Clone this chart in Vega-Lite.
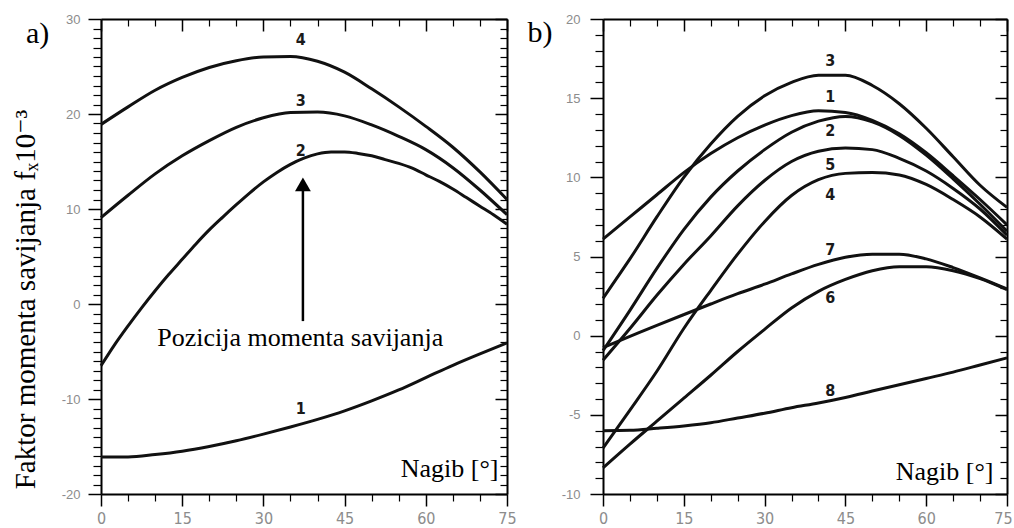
{
  "$schema": "https://vega.github.io/schema/vega-lite/v6.json",
  "background": "white",
  "padding": {"left": 11, "top": 13, "right": 0, "bottom": 0},
  "spacing": 96,
  "bounds": "flush",
  "config": {
    "view": {"stroke": null},
    "axis": {"grid": false, "domainColor": "black", "tickColor": "black", "labelColor": "#8c8c8c", "labelFlush": false, "labelOverlap": false}
  },
  "datasets": {
    "a_curves": [
      {"curve": "1", "x": 0, "y": -16.1}, {"curve": "1", "x": 5, "y": -16.1}, {"curve": "1", "x": 10, "y": -15.85}, {"curve": "1", "x": 15, "y": -15.5},
      {"curve": "1", "x": 20, "y": -15.0}, {"curve": "1", "x": 25, "y": -14.4}, {"curve": "1", "x": 30, "y": -13.7}, {"curve": "1", "x": 35, "y": -12.95},
      {"curve": "1", "x": 40, "y": -12.15}, {"curve": "1", "x": 45, "y": -11.25}, {"curve": "1", "x": 50, "y": -10.2}, {"curve": "1", "x": 55, "y": -9.05},
      {"curve": "1", "x": 60, "y": -7.75}, {"curve": "1", "x": 65, "y": -6.45}, {"curve": "1", "x": 70, "y": -5.25}, {"curve": "1", "x": 75, "y": -4.1},
      {"curve": "2", "x": 0, "y": -6.5}, {"curve": "2", "x": 2.5, "y": -4.3}, {"curve": "2", "x": 5, "y": -2.3}, {"curve": "2", "x": 7.5, "y": -0.4},
      {"curve": "2", "x": 10, "y": 1.4}, {"curve": "2", "x": 12.5, "y": 3.1}, {"curve": "2", "x": 15, "y": 4.7}, {"curve": "2", "x": 17.5, "y": 6.3},
      {"curve": "2", "x": 20, "y": 7.8}, {"curve": "2", "x": 22.5, "y": 9.15}, {"curve": "2", "x": 25, "y": 10.45}, {"curve": "2", "x": 27.5, "y": 11.7},
      {"curve": "2", "x": 30, "y": 12.85}, {"curve": "2", "x": 32.5, "y": 13.85}, {"curve": "2", "x": 35, "y": 14.7}, {"curve": "2", "x": 37.5, "y": 15.35},
      {"curve": "2", "x": 40, "y": 15.8}, {"curve": "2", "x": 42.5, "y": 16.0}, {"curve": "2", "x": 45, "y": 16.0}, {"curve": "2", "x": 47.5, "y": 15.85},
      {"curve": "2", "x": 50, "y": 15.6}, {"curve": "2", "x": 52.5, "y": 15.2}, {"curve": "2", "x": 55, "y": 14.8}, {"curve": "2", "x": 57.5, "y": 14.3},
      {"curve": "2", "x": 60, "y": 13.6}, {"curve": "2", "x": 62.5, "y": 12.9}, {"curve": "2", "x": 65, "y": 12.1}, {"curve": "2", "x": 67.5, "y": 11.2},
      {"curve": "2", "x": 70, "y": 10.3}, {"curve": "2", "x": 72.5, "y": 9.4}, {"curve": "2", "x": 75, "y": 8.4},
      {"curve": "3", "x": 0, "y": 9.1}, {"curve": "3", "x": 5, "y": 11.45}, {"curve": "3", "x": 10, "y": 13.7}, {"curve": "3", "x": 15, "y": 15.6},
      {"curve": "3", "x": 20, "y": 17.2}, {"curve": "3", "x": 25, "y": 18.6}, {"curve": "3", "x": 30, "y": 19.6}, {"curve": "3", "x": 35, "y": 20.15},
      {"curve": "3", "x": 40, "y": 20.2}, {"curve": "3", "x": 45, "y": 19.8}, {"curve": "3", "x": 50, "y": 18.85}, {"curve": "3", "x": 55, "y": 17.65},
      {"curve": "3", "x": 60, "y": 16.25}, {"curve": "3", "x": 65, "y": 14.35}, {"curve": "3", "x": 70, "y": 12.0}, {"curve": "3", "x": 75, "y": 9.4},
      {"curve": "4", "x": 0, "y": 18.9}, {"curve": "4", "x": 5, "y": 20.75}, {"curve": "4", "x": 10, "y": 22.5}, {"curve": "4", "x": 15, "y": 23.85},
      {"curve": "4", "x": 20, "y": 24.9}, {"curve": "4", "x": 25, "y": 25.6}, {"curve": "4", "x": 30, "y": 26.0}, {"curve": "4", "x": 35, "y": 26.05},
      {"curve": "4", "x": 40, "y": 25.55}, {"curve": "4", "x": 45, "y": 24.4}, {"curve": "4", "x": 50, "y": 22.65}, {"curve": "4", "x": 55, "y": 20.75},
      {"curve": "4", "x": 60, "y": 18.7}, {"curve": "4", "x": 65, "y": 16.5}, {"curve": "4", "x": 70, "y": 13.9}, {"curve": "4", "x": 75, "y": 11.0}
    ],
    "a_labels": [
      {"curve": "1", "x": 36.9, "y": -11.0},
      {"curve": "2", "x": 36.9, "y": 16.1},
      {"curve": "3", "x": 36.9, "y": 21.4},
      {"curve": "4", "x": 36.9, "y": 27.8}
    ],
    "a_arrow": [{"x": 37.3, "y": -1.8, "y2": 11.9, "head": 12.6}],
    "a_note": [{"x": 36.8, "y": -4.46, "text": "Pozicija momenta savijanja"}],
    "b_curves": [
      {"curve": "1", "x": 0, "y": 6.1}, {"curve": "1", "x": 5, "y": 7.5}, {"curve": "1", "x": 10, "y": 8.9}, {"curve": "1", "x": 15, "y": 10.3},
      {"curve": "1", "x": 20, "y": 11.5}, {"curve": "1", "x": 25, "y": 12.5}, {"curve": "1", "x": 30, "y": 13.3}, {"curve": "1", "x": 35, "y": 13.9},
      {"curve": "1", "x": 40, "y": 14.2}, {"curve": "1", "x": 45, "y": 14.1}, {"curve": "1", "x": 50, "y": 13.6}, {"curve": "1", "x": 55, "y": 12.75},
      {"curve": "1", "x": 60, "y": 11.55}, {"curve": "1", "x": 65, "y": 10.1}, {"curve": "1", "x": 70, "y": 8.6}, {"curve": "1", "x": 75, "y": 7.0},
      {"curve": "2", "x": 0, "y": -0.95}, {"curve": "2", "x": 5, "y": 1.6}, {"curve": "2", "x": 10, "y": 4.25}, {"curve": "2", "x": 15, "y": 6.7},
      {"curve": "2", "x": 20, "y": 8.75}, {"curve": "2", "x": 25, "y": 10.4}, {"curve": "2", "x": 30, "y": 11.75}, {"curve": "2", "x": 35, "y": 12.85},
      {"curve": "2", "x": 40, "y": 13.55}, {"curve": "2", "x": 45, "y": 13.85}, {"curve": "2", "x": 50, "y": 13.5}, {"curve": "2", "x": 55, "y": 12.65},
      {"curve": "2", "x": 60, "y": 11.4}, {"curve": "2", "x": 65, "y": 9.9}, {"curve": "2", "x": 70, "y": 8.3}, {"curve": "2", "x": 75, "y": 6.6},
      {"curve": "3", "x": 0, "y": 2.35}, {"curve": "3", "x": 2.5, "y": 3.6}, {"curve": "3", "x": 5, "y": 4.85}, {"curve": "3", "x": 10, "y": 7.5},
      {"curve": "3", "x": 15, "y": 10.0}, {"curve": "3", "x": 20, "y": 12.1}, {"curve": "3", "x": 25, "y": 13.85}, {"curve": "3", "x": 30, "y": 15.15},
      {"curve": "3", "x": 35, "y": 16.0}, {"curve": "3", "x": 40, "y": 16.45}, {"curve": "3", "x": 45, "y": 16.45}, {"curve": "3", "x": 50, "y": 15.8},
      {"curve": "3", "x": 55, "y": 14.65}, {"curve": "3", "x": 60, "y": 13.1}, {"curve": "3", "x": 65, "y": 11.3}, {"curve": "3", "x": 70, "y": 9.5},
      {"curve": "3", "x": 75, "y": 8.1},
      {"curve": "4", "x": 0, "y": -7.1}, {"curve": "4", "x": 5, "y": -4.7}, {"curve": "4", "x": 10, "y": -2.25}, {"curve": "4", "x": 15, "y": 0.45},
      {"curve": "4", "x": 20, "y": 2.85}, {"curve": "4", "x": 25, "y": 5.15}, {"curve": "4", "x": 30, "y": 7.2}, {"curve": "4", "x": 35, "y": 8.85},
      {"curve": "4", "x": 40, "y": 9.85}, {"curve": "4", "x": 45, "y": 10.25}, {"curve": "4", "x": 50, "y": 10.3}, {"curve": "4", "x": 55, "y": 10.15},
      {"curve": "4", "x": 60, "y": 9.55}, {"curve": "4", "x": 65, "y": 8.6}, {"curve": "4", "x": 70, "y": 7.5}, {"curve": "4", "x": 75, "y": 6.1},
      {"curve": "5", "x": 0, "y": -1.55}, {"curve": "5", "x": 5, "y": 0.45}, {"curve": "5", "x": 10, "y": 2.55}, {"curve": "5", "x": 15, "y": 4.5},
      {"curve": "5", "x": 20, "y": 6.3}, {"curve": "5", "x": 25, "y": 8.2}, {"curve": "5", "x": 30, "y": 9.8}, {"curve": "5", "x": 35, "y": 11.0},
      {"curve": "5", "x": 40, "y": 11.65}, {"curve": "5", "x": 45, "y": 11.85}, {"curve": "5", "x": 50, "y": 11.75}, {"curve": "5", "x": 55, "y": 11.2},
      {"curve": "5", "x": 60, "y": 10.4}, {"curve": "5", "x": 65, "y": 9.3}, {"curve": "5", "x": 70, "y": 8.0}, {"curve": "5", "x": 75, "y": 6.35},
      {"curve": "6", "x": 0, "y": -8.35}, {"curve": "6", "x": 5, "y": -6.85}, {"curve": "6", "x": 10, "y": -5.4}, {"curve": "6", "x": 15, "y": -3.95},
      {"curve": "6", "x": 20, "y": -2.5}, {"curve": "6", "x": 25, "y": -1.0}, {"curve": "6", "x": 30, "y": 0.4}, {"curve": "6", "x": 35, "y": 1.75},
      {"curve": "6", "x": 40, "y": 2.8}, {"curve": "6", "x": 45, "y": 3.55}, {"curve": "6", "x": 50, "y": 4.1}, {"curve": "6", "x": 55, "y": 4.35},
      {"curve": "6", "x": 60, "y": 4.35}, {"curve": "6", "x": 65, "y": 4.1}, {"curve": "6", "x": 70, "y": 3.6}, {"curve": "6", "x": 75, "y": 2.9},
      {"curve": "7", "x": 0, "y": -0.75}, {"curve": "7", "x": 5, "y": -0.05}, {"curve": "7", "x": 10, "y": 0.65}, {"curve": "7", "x": 15, "y": 1.33},
      {"curve": "7", "x": 20, "y": 2.0}, {"curve": "7", "x": 25, "y": 2.65}, {"curve": "7", "x": 30, "y": 3.25}, {"curve": "7", "x": 35, "y": 3.9},
      {"curve": "7", "x": 40, "y": 4.5}, {"curve": "7", "x": 45, "y": 4.95}, {"curve": "7", "x": 50, "y": 5.15}, {"curve": "7", "x": 55, "y": 5.15},
      {"curve": "7", "x": 60, "y": 4.85}, {"curve": "7", "x": 65, "y": 4.3}, {"curve": "7", "x": 70, "y": 3.65}, {"curve": "7", "x": 75, "y": 2.95},
      {"curve": "8", "x": 0, "y": -6.0}, {"curve": "8", "x": 5, "y": -5.98}, {"curve": "8", "x": 10, "y": -5.85}, {"curve": "8", "x": 15, "y": -5.7},
      {"curve": "8", "x": 20, "y": -5.5}, {"curve": "8", "x": 25, "y": -5.2}, {"curve": "8", "x": 30, "y": -4.9}, {"curve": "8", "x": 35, "y": -4.55},
      {"curve": "8", "x": 40, "y": -4.25}, {"curve": "8", "x": 45, "y": -3.9}, {"curve": "8", "x": 50, "y": -3.5}, {"curve": "8", "x": 55, "y": -3.1},
      {"curve": "8", "x": 60, "y": -2.7}, {"curve": "8", "x": 65, "y": -2.3}, {"curve": "8", "x": 70, "y": -1.85}, {"curve": "8", "x": 75, "y": -1.4}
    ],
    "b_labels": [
      {"curve": "3", "x": 42.2, "y": 17.33},
      {"curve": "1", "x": 42.2, "y": 15.05},
      {"curve": "2", "x": 42.2, "y": 12.94},
      {"curve": "5", "x": 42.2, "y": 10.79},
      {"curve": "4", "x": 42.2, "y": 8.89},
      {"curve": "7", "x": 42.2, "y": 5.39},
      {"curve": "6", "x": 42.2, "y": 2.4},
      {"curve": "8", "x": 42.2, "y": -3.5}
    ]
  },
  "hconcat": [
    {
      "width": 406,
      "height": 475,
      "resolve": {"axis": {"x": "independent", "y": "independent"}},
      "layer": [
        {
          "data": {"name": "a_curves"},
          "mark": {"type": "line", "interpolate": "monotone", "strokeWidth": 3, "color": "#111111"},
          "encoding": {
            "detail": {"field": "curve"},
            "x": {"field": "x", "type": "quantitative", "scale": {"domain": [0, 75], "nice": false},
              "axis": {"orient": "bottom", "values": [0, 15, 30, 45, 60, 75], "tickSize": 12, "tickWidth": 1.5, "domain": true, "domainWidth": 2,
                "labelFont": "Liberation Sans Narrow, DejaVu Sans Condensed, sans-serif", "labelFontSize": 16, "labelPadding": 4, "labelExpr": "'' + datum.value",
                "title": "Nagib [°]", "titleFont": "Liberation Serif, Times New Roman, DejaVu Serif, serif", "titleFontSize": 26, "titleFontWeight": "normal", "titleColor": "black",
                "titleAlign": "right", "titleBaseline": "alphabetic", "titleX": 397, "titleY": -18}},
            "y": {"field": "y", "type": "quantitative", "scale": {"domain": [-20, 30], "nice": false},
              "axis": {"orient": "left", "values": [-20, -10, 0, 10, 20, 30], "tickSize": 13, "tickWidth": 1.5, "domain": true, "domainWidth": 2,
                "labelFont": "Liberation Sans", "labelFontSize": 13, "labelPadding": 8, "labelExpr": "'' + datum.value",
                "title": "Faktor momenta savijanja fₓ10⁻³", "titleFont": "Liberation Serif, Times New Roman, DejaVu Serif, serif", "titleFontSize": 29, "titleFontWeight": "normal", "titleColor": "black",
                "titleAngle": 270, "titleAlign": "center", "titleBaseline": "alphabetic", "titleX": -67, "titleY": 280}}
          }
        },
        {
          "data": {"name": "a_labels"},
          "mark": {"type": "text", "font": "Liberation Sans Narrow, DejaVu Sans Condensed, sans-serif", "fontSize": 16, "fontWeight": "bold", "color": "#1a1a1a", "baseline": "middle", "align": "center"},
          "encoding": {
            "text": {"field": "curve"},
            "x": {"field": "x", "type": "quantitative", "scale": {"domain": [0, 75], "nice": false},
              "axis": {"orient": "bottom", "values": [5, 10, 20, 25, 35, 40, 50, 55, 65, 70], "tickSize": 7, "tickWidth": 1.2, "domain": false, "labels": false, "title": null}},
            "y": {"field": "y", "type": "quantitative", "scale": {"domain": [-20, 30], "nice": false},
              "axis": {"orient": "left", "values": [-19, -18, -17, -16, -15, -14, -13, -12, -11, -9, -8, -7, -6, -5, -4, -3, -2, -1, 1, 2, 3, 4, 5, 6, 7, 8, 9, 11, 12, 13, 14, 15, 16, 17, 18, 19, 21, 22, 23, 24, 25, 26, 27, 28, 29],
                "tickSize": 8, "tickWidth": 1.2, "domain": false, "labels": false,
                "title": "a)", "titleFont": "Liberation Serif, Times New Roman, DejaVu Serif, serif", "titleFontSize": 30, "titleFontWeight": "normal", "titleColor": "black",
                "titleAngle": 0, "titleAlign": "left", "titleBaseline": "alphabetic", "titleX": -75.5, "titleY": 23}}
          }
        },
        {
          "data": {"name": "a_arrow"},
          "mark": {"type": "rule", "strokeWidth": 2.5, "color": "black"},
          "encoding": {
            "x": {"field": "x", "type": "quantitative", "scale": {"domain": [0, 75], "nice": false},
              "axis": {"orient": "top", "values": [5, 10, 20, 25, 35, 40, 50, 55, 65, 70], "tickSize": -7, "tickWidth": 1.2, "domain": true, "domainWidth": 2, "labels": false, "title": null}},
            "y": {"field": "y", "type": "quantitative", "scale": {"domain": [-20, 30], "nice": false},
              "axis": {"orient": "right", "values": [-19, -18, -17, -16, -15, -14, -13, -12, -11, -9, -8, -7, -6, -5, -4, -3, -2, -1, 1, 2, 3, 4, 5, 6, 7, 8, 9, 11, 12, 13, 14, 15, 16, 17, 18, 19, 21, 22, 23, 24, 25, 26, 27, 28, 29],
                "tickSize": -7, "tickWidth": 1.2, "domain": true, "domainWidth": 2, "labels": false, "title": null}},
            "y2": {"field": "y2"}
          }
        },
        {
          "data": {"name": "a_arrow"},
          "mark": {"type": "point", "shape": "triangle-up", "filled": true, "size": 250, "color": "black", "opacity": 1},
          "encoding": {
            "x": {"field": "x", "type": "quantitative", "scale": {"domain": [0, 75], "nice": false},
              "axis": {"orient": "top", "values": [0, 15, 30, 45, 60, 75], "tickSize": -12, "tickWidth": 1.5, "domain": false, "labels": false, "title": null}},
            "y": {"field": "head", "type": "quantitative", "scale": {"domain": [-20, 30], "nice": false},
              "axis": {"orient": "right", "values": [-20, -10, 0, 10, 20, 30], "tickSize": -12, "tickWidth": 1.5, "domain": false, "labels": false, "title": null}}
          }
        },
        {
          "data": {"name": "a_note"},
          "mark": {"type": "text", "font": "Liberation Serif, Times New Roman, DejaVu Serif, serif", "fontSize": 26, "color": "black", "align": "center", "baseline": "alphabetic"},
          "encoding": {
            "text": {"field": "text"},
            "x": {"field": "x", "type": "quantitative", "scale": {"domain": [0, 75], "nice": false}, "axis": null},
            "y": {"field": "y", "type": "quantitative", "scale": {"domain": [-20, 30], "nice": false}, "axis": null}
          }
        }
      ]
    },
    {
      "width": 404,
      "height": 475,
      "resolve": {"axis": {"x": "independent", "y": "independent"}},
      "layer": [
        {
          "data": {"name": "b_curves"},
          "transform": [{"filter": "toNumber(datum.curve) <= 4"}],
          "mark": {"type": "line", "interpolate": "monotone", "strokeWidth": 3, "color": "#111111"},
          "encoding": {
            "detail": {"field": "curve"},
            "x": {"field": "x", "type": "quantitative", "scale": {"domain": [0, 75], "nice": false},
              "axis": {"orient": "bottom", "values": [0, 15, 30, 45, 60, 75], "tickSize": 12, "tickWidth": 1.5, "domain": true, "domainWidth": 2,
                "labelFont": "Liberation Sans Narrow, DejaVu Sans Condensed, sans-serif", "labelFontSize": 16, "labelPadding": 4, "labelExpr": "'' + datum.value",
                "labelOffset": {"condition": {"test": "datum.value === 75", "value": -4}, "value": 0},
                "title": "Nagib [°]", "titleFont": "Liberation Serif, Times New Roman, DejaVu Serif, serif", "titleFontSize": 26, "titleFontWeight": "normal", "titleColor": "black",
                "titleAlign": "right", "titleBaseline": "alphabetic", "titleX": 390, "titleY": -15}},
            "y": {"field": "y", "type": "quantitative", "scale": {"domain": [-10, 20], "nice": false},
              "axis": {"orient": "left", "values": [-10, -5, 0, 5, 10, 15, 20], "tickSize": 13, "tickWidth": 1.5, "domain": true, "domainWidth": 2,
                "labelFont": "Liberation Sans", "labelFontSize": 13, "labelPadding": 10, "labelExpr": "'' + datum.value", "title": null}}
          }
        },
        {
          "data": {"name": "b_labels"},
          "transform": [{"filter": "toNumber(datum.curve) <= 4"}],
          "mark": {"type": "text", "font": "Liberation Sans Narrow, DejaVu Sans Condensed, sans-serif", "fontSize": 16, "fontWeight": "bold", "color": "#1a1a1a", "baseline": "middle", "align": "center"},
          "encoding": {
            "text": {"field": "curve"},
            "x": {"field": "x", "type": "quantitative", "scale": {"domain": [0, 75], "nice": false},
              "axis": {"orient": "bottom", "values": [5, 10, 20, 25, 35, 40, 50, 55, 65, 70], "tickSize": 7, "tickWidth": 1.2, "domain": false, "labels": false, "title": null}},
            "y": {"field": "y", "type": "quantitative", "scale": {"domain": [-10, 20], "nice": false},
              "axis": {"orient": "left", "values": [-9, -8, -7, -6, -4, -3, -2, -1, 1, 2, 3, 4, 6, 7, 8, 9, 11, 12, 13, 14, 16, 17, 18, 19],
                "tickSize": 8, "tickWidth": 1.2, "domain": false, "labels": false,
                "title": "b)", "titleFont": "Liberation Serif, Times New Roman, DejaVu Serif, serif", "titleFontSize": 30, "titleFontWeight": "normal", "titleColor": "black",
                "titleAngle": 0, "titleAlign": "left", "titleBaseline": "alphabetic", "titleX": -76, "titleY": 22}}
          }
        },
        {
          "data": {"name": "b_curves"},
          "transform": [{"filter": "toNumber(datum.curve) > 4"}],
          "mark": {"type": "line", "interpolate": "monotone", "strokeWidth": 3, "color": "#111111"},
          "encoding": {
            "detail": {"field": "curve"},
            "x": {"field": "x", "type": "quantitative", "scale": {"domain": [0, 75], "nice": false},
              "axis": {"orient": "top", "values": [5, 10, 20, 25, 35, 40, 50, 55, 65, 70], "tickSize": -7, "tickWidth": 1.2, "domain": true, "domainWidth": 2, "labels": false, "title": null}},
            "y": {"field": "y", "type": "quantitative", "scale": {"domain": [-10, 20], "nice": false},
              "axis": {"orient": "right", "values": [-9, -8, -7, -6, -4, -3, -2, -1, 1, 2, 3, 4, 6, 7, 8, 9, 11, 12, 13, 14, 16, 17, 18, 19],
                "tickSize": -7, "tickWidth": 1.2, "domain": true, "domainWidth": 2, "labels": false, "title": null}}
          }
        },
        {
          "data": {"name": "b_labels"},
          "transform": [{"filter": "toNumber(datum.curve) > 4"}],
          "mark": {"type": "text", "font": "Liberation Sans Narrow, DejaVu Sans Condensed, sans-serif", "fontSize": 16, "fontWeight": "bold", "color": "#1a1a1a", "baseline": "middle", "align": "center"},
          "encoding": {
            "text": {"field": "curve"},
            "x": {"field": "x", "type": "quantitative", "scale": {"domain": [0, 75], "nice": false},
              "axis": {"orient": "top", "values": [0, 15, 30, 45, 60, 75], "tickSize": -12, "tickWidth": 1.5, "domain": false, "labels": false, "title": null}},
            "y": {"field": "y", "type": "quantitative", "scale": {"domain": [-10, 20], "nice": false},
              "axis": {"orient": "right", "values": [-10, -5, 0, 5, 10, 15, 20], "tickSize": -12, "tickWidth": 1.5, "domain": false, "labels": false, "title": null}}
          }
        }
      ]
    }
  ]
}
